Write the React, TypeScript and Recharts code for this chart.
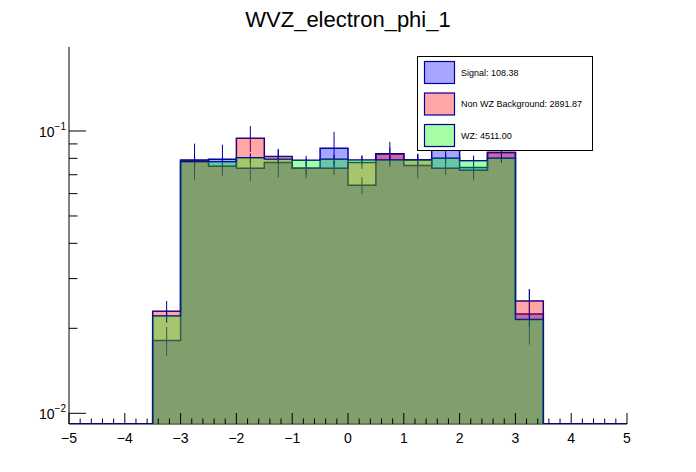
import React from "react";
import {
  ComposedChart,
  Area,
  Scatter,
  ErrorBar,
  XAxis,
  YAxis,
} from "recharts";

// WVZ_electron_phi_1 : normalised histograms, 20 bins from -5 to 5
const binLowEdges = [
  -5, -4.5, -4, -3.5, -3, -2.5, -2, -1.5, -1, -0.5, 0, 0.5, 1, 1.5, 2, 2.5, 3,
  3.5, 4, 4.5,
];
const binHighEdge = 5;

const signal = [
  0, 0, 0, 0.0181, 0.0787, 0.0794, 0.0738, 0.0774, 0.0738, 0.0869, 0.0642,
  0.083, 0.0755, 0.088, 0.0743, 0.084, 0.0225, 0, 0, 0,
];
const signalErr = [
  0, 0, 0, 0.0021, 0.0115, 0.01, 0.0072, 0.009, 0.006, 0.0125, 0.0044, 0.0085,
  0.0075, 0.01, 0.0075, 0.006, 0.005, 0, 0, 0,
];
const nonWZ = [
  0, 0, 0, 0.023, 0.0787, 0.075, 0.0942, 0.0813, 0.0738, 0.0738, 0.0774,
  0.0829, 0.079, 0.0738, 0.0726, 0.084, 0.025, 0, 0, 0,
];
const nonWZErr = [
  0, 0, 0, 0.002, 0.004, 0.004, 0.0099, 0.0045, 0.004, 0.004, 0.004, 0.0045,
  0.004, 0.004, 0.004, 0.0045, 0.0025, 0, 0, 0,
];
const wz = [
  0, 0, 0, 0.0221, 0.0778, 0.0778, 0.0804, 0.0794, 0.0787, 0.0794, 0.079,
  0.079, 0.079, 0.08, 0.0785, 0.08, 0.0215, 0, 0, 0,
];
const wzErr = [
  0, 0, 0, 0.0012, 0.003, 0.003, 0.003, 0.003, 0.003, 0.003, 0.003, 0.003,
  0.003, 0.003, 0.003, 0.003, 0.0012, 0, 0, 0,
];

const legendLabels = [
  "Signal: 108.38",
  "Non WZ Background: 2891.87",
  "WZ: 4511.00",
];

const xMajorTicks = [-5, -4, -3, -2, -1, 0, 1, 2, 3, 4, 5];
const xTickLabels = ["−5", "−4", "−3", "−2", "−1", "0", "1", "2", "3", "4", "5"];
const yMajorTicks = [0.01, 0.1];
const yMajorExponents = ["−2", "−1"];
const yMinorTicks = [0.02, 0.03, 0.04, 0.05, 0.06, 0.07, 0.08, 0.09];

const Y_MIN = 0.009165;
const Y_MAX = 0.1984;

const NAVY = "#000099";
const FONT = "'Liberation Sans', Arial, Helvetica, sans-serif";
const fills = ["#0000ff", "#ff0000", "#00ff00"];

// log axis cannot show 0, so empty bins sit on the floor of the frame
const floor = (v: number) => (v > 0 ? v : Y_MIN);

const stepData = [...binLowEdges, binHighEdge].map((x, i) => {
  const b = Math.min(i, binLowEdges.length - 1);
  return {
    x,
    sig: floor(signal[b]),
    bkg: floor(nonWZ[b]),
    wz: floor(wz[b]),
  };
});

const errPoints = (vals: number[], errs: number[]) =>
  binLowEdges
    .map((lo, i) => ({ x: lo + 0.25, y: vals[i], err: errs[i] }))
    .filter((p) => p.y > 0);

const series = [
  { key: "sig", pts: errPoints(signal, signalErr) },
  { key: "bkg", pts: errPoints(nonWZ, nonWZErr) },
  { key: "wz", pts: errPoints(wz, wzErr) },
];

const xMinorTicks: number[] = [];
xMajorTicks.slice(0, -1).forEach((t) => {
  for (let k = 0; k < 5; k++) xMinorTicks.push(Math.round((t + k * 0.2) * 10) / 10);
});
xMinorTicks.push(xMajorTicks[xMajorTicks.length - 1]);

const XTick = (props: any) => {
  const { x, y, payload } = props;
  const idx = xMajorTicks.indexOf(payload.value);
  const major = idx >= 0;
  return (
    <g>
      <line x1={x} x2={x} y1={y} y2={y - (major ? 11 : 5.5)} stroke="#000" strokeWidth={1} />
      {major && (
        <text x={x} y={y + 19} textAnchor="middle" fontSize={14} fontFamily={FONT} fill="#000">
          {xTickLabels[idx]}
        </text>
      )}
    </g>
  );
};

const YTick = (props: any) => {
  const { x, y, payload } = props;
  const idx = yMajorTicks.indexOf(payload.value);
  const major = idx >= 0;
  return (
    <g>
      <line x1={x} x2={x + (major ? 17 : 8.5)} y1={y} y2={y} stroke="#000" strokeWidth={1} />
      {major && (
        <text x={x - 3} y={y + 6} textAnchor="end" fontFamily={FONT} fill="#000">
          <tspan fontSize={14}>10</tspan>
          <tspan fontSize={10} dy={-7}>
            {yMajorExponents[idx]}
          </tspan>
        </text>
      )}
    </g>
  );
};

const NoShape = () => <g />;

export default function App() {
  return (
    <div
      style={{
        position: "absolute",
        left: 0,
        top: 0,
        width: 696,
        height: 472,
        background: "#fff",
      }}
    >
      <ComposedChart
        width={696}
        height={472}
        data={stepData}
        margin={{ top: 47, right: 69, bottom: 18, left: 9 }}
      >
        <XAxis
          dataKey="x"
          type="number"
          domain={[-5, 5]}
          allowDataOverflow
          ticks={xMinorTicks}
          interval={0}
          tickSize={0}
          tickMargin={0}
          tickLine={false}
          tick={<XTick />}
          axisLine={{ stroke: "#000", strokeWidth: 1 }}
          height={30}
          zIndex={50}
        />
        <XAxis
          xAxisId="top"
          orientation="top"
          dataKey="x"
          type="number"
          domain={[-5, 5]}
          tick={false}
          tickLine={false}
          height={0}
          axisLine={{ stroke: "#000", strokeWidth: 1 }}
          zIndex={50}
        />
        <YAxis
          type="number"
          scale="log"
          domain={[Y_MIN, Y_MAX]}
          allowDataOverflow
          ticks={[...yMajorTicks, ...yMinorTicks]}
          interval={0}
          tickSize={0}
          tickMargin={0}
          tickLine={false}
          tick={<YTick />}
          axisLine={{ stroke: "#000", strokeWidth: 1 }}
          width={60}
          zIndex={50}
        />
        <YAxis
          yAxisId="right"
          orientation="right"
          type="number"
          domain={[0, 1]}
          tick={false}
          tickLine={false}
          width={0}
          axisLine={{ stroke: "#000", strokeWidth: 1 }}
          zIndex={50}
        />
        {series.flatMap((s, i) => [
          <Area
            key={s.key + "-line"}
            dataKey={s.key}
            type="stepAfter"
            stroke={NAVY}
            strokeWidth={1.5}
            fill="none"
            dot={false}
            activeDot={false}
            isAnimationActive={false}
            zIndex={101 + i * 3}
          />,
          <Scatter
            key={s.key + "-err"}
            data={s.pts}
            dataKey="y"
            shape={NoShape}
            isAnimationActive={false}
            zIndex={102 + i * 3}
          >
            <ErrorBar
              dataKey="err"
              direction="y"
              width={0}
              stroke={NAVY}
              strokeWidth={1}
              isAnimationActive={false}
              zIndex={102 + i * 3}
            />
          </Scatter>,
          <Area
            key={s.key + "-fill"}
            dataKey={s.key}
            type="stepAfter"
            stroke="none"
            fill={fills[i]}
            fillOpacity={0.35}
            dot={false}
            activeDot={false}
            isAnimationActive={false}
            zIndex={103 + i * 3}
          />,
        ])}
      </ComposedChart>

      <svg
        width={696}
        height={472}
        style={{ position: "absolute", left: 0, top: 0, pointerEvents: "none" }}
      >
        <text x={348} y={27} textAnchor="middle" fontSize={22} fontFamily={FONT} fill="#000">
          WVZ_electron_phi_1
        </text>
        <rect x={417.5} y={56.5} width={175} height={94} fill="#fff" stroke="#000" strokeWidth={1} />
        {legendLabels.map((label, i) => (
          <g key={label}>
            <rect
              x={424.5}
              y={61.5 + i * 31.5}
              width={30}
              height={22}
              fill={fills[i]}
              fillOpacity={0.35}
              stroke={NAVY}
              strokeWidth={1.2}
            />
            <text
              x={461}
              y={75.5 + i * 31.5}
              fontSize={9}
              fontFamily={FONT}
              fill="#000"
            >
              {label}
            </text>
          </g>
        ))}
      </svg>
    </div>
  );
}
